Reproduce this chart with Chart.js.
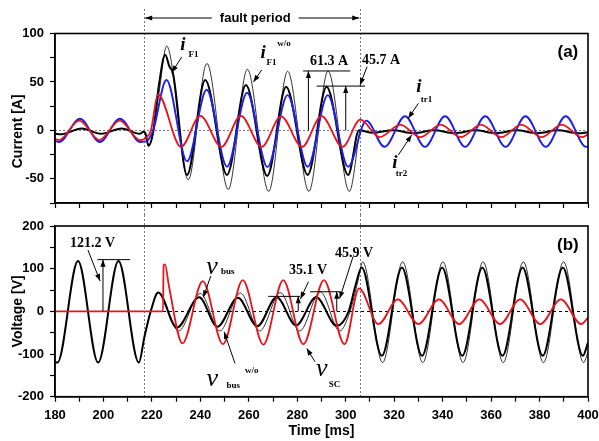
<!DOCTYPE html>
<html><head><meta charset="utf-8">
<script src="https://cdn.jsdelivr.net/npm/chart.js@4.4.0/dist/chart.umd.min.js"></script>
<style>
html,body{margin:0;padding:0;background:#fff;}
#wrap{position:relative;width:599px;height:441px;overflow:hidden;background:#fff;}
#c1{position:absolute;left:0;top:0;}
#c2{position:absolute;left:0;top:215px;}
</style></head><body>
<div id="wrap"><canvas id="c1" width="599" height="215"></canvas><canvas id="c2" width="599" height="226"></canvas></div>
<script>
// ---------- data (time in ms) ----------
const faultStart = 216.8, faultEnd = 306;

// (a) currents [A]
const iF1Time = [180, 182.5, 191, 199, 207.5, 215, 216.5, 217.3, 218.6, 220.5, 222.8, 225.5, 227.2, 228.7, 234.5, 242, 251, 258.8, 267.6, 275.4, 284.3, 292.1, 301, 305.5, 311, 319.5, 328, 336.5, 345, 353.5, 362, 370.5, 379, 387.5, 396, 400];
const iF1Val  = [-3.5, -4, 2, -3.5, 2, -3.5, -1.5, -3, -16, -2, 45, 78, 66, 59, -46, 52, -46, 46.7, -47, 45, -46, 45, -46, 0, -2.5, 0, -3, 0, -3, 0, -3, 0, -3, 0, -3, -2];

const iF1woTime = [216.5, 217.3, 218.6, 220.5, 223, 226.1, 235, 242.7, 251.5, 259.4, 268.2, 276, 284.8, 292.7, 301.5, 305.8];
const iF1woVal  = [-1.5, -3, -15, -3, 40, 87, -51, 69, -61, 63, -63, 61, -63, 61.3, -63, 0];

const itr1Time = [180, 181.7, 190.3, 198.5, 206.8, 215.2, 217.8, 220.5, 226, 234.5, 242.6, 251, 259.3, 267.7, 276, 284.3, 292.6, 301, 308.5, 316, 324.5, 332.7, 341, 349.3, 357.6, 366, 374.2, 382.6, 390.8, 399.2, 400];
const itr1Val  = [-11, -12, 12, -12, 12, -12, -11, 0, 52, -32, 42, -37.5, 38.8, -38, 36.4, -37.5, 36.4, -37.5, 10, -17, 14.5, -17, 14.5, -17, 14.5, -17, 14.5, -17, 14.5, -17, -16.5];

const itr2Time = [180, 181.7, 190, 198.3, 206.7, 215, 217.5, 219.6, 222.5, 232, 240, 248.7, 256.7, 265.3, 273.3, 282, 290, 298.7, 306, 314, 322.5, 330.8, 339.2, 347.5, 355.8, 364.2, 372.5, 380.8, 389.2, 397.5, 400];
const itr2Val  = [-9, -10, 10, -10, 10, -10, -8, 0, 37, -17, 15, -17, 15, -17, 14.5, -17, 14.7, -17, 11, -7, 6, -7, 6, -7, 6, -7, 6, -7, 6, -7, -4];

// (b) voltages [V]
const vbusTime = [180, 181, 189.5, 197.8, 206.2, 214.6, 216.9, 219.5, 222.6, 230.3, 239.5, 247, 255.5, 263.5, 271.5, 279.5, 287.8, 296.3, 301.2, 304, 306.6, 314.9, 323.2, 331.5, 339.8, 348.1, 356.4, 364.7, 373, 381.3, 389.6, 397.9, 400];
const vbusVal  = [-118, -120, 118, -120, 118, -120, -60, 0, 44, -38, 33, -36, 32, -35, 33, -33, 33, -34, 0, 60, 103, -104, 103, -104, 103, -104, 103, -104, 103, -104, 103, -104, -73];

const vbusWoTime = [216.9, 219.5, 222.8, 231, 240, 248, 256.5, 264.5, 273, 281, 289.5, 297.5, 301.8, 305, 307, 315.2, 323.5, 331.8, 340.1, 348.4, 356.7, 365, 373.3, 381.6, 389.9, 398.2, 400];
const vbusWoVal  = [-60, 0, 44, -46, 42, -46, 43, -46, 44, -46, 45.9, -46, 0, 70, 116, -120, 116, -120, 116, -120, 116, -120, 116, -120, 116, -120, -95];

const vscTime = [180, 224.6, 224.8, 225.4, 227, 232.6, 241, 249.3, 257.5, 266, 274.2, 282.5, 291, 299.5, 305.5, 313.5, 321.5, 330, 338.5, 346.8, 355.2, 363.7, 372, 380.3, 388.8, 397.2, 400];
const vscVal  = [0, 0, 108, 110, 60, -75, 71, -77, 73, -78, 73, -77, 73, -77, 54, -30, 28, -30, 28, -30, 28, -30, 28, -30, 28, -30, -15];

// tick labels
const xLabelStep = 20, yLabelStepA = 50, yLabelStepB = 100;

// ---------- helpers ----------
const pts = (ts, vs) => ts.map((t, i) => ({x: t, y: vs[i]}));
const SANS = '"Liberation Sans", Arial, sans-serif';
const SERIF = '"Liberation Serif", "Times New Roman", serif';

function drawArrowHead(ctx, x1, y1, x2, y2) {
  const ang = Math.atan2(y2 - y1, x2 - x1), L = 7, W = 2.6;
  ctx.beginPath();
  ctx.moveTo(x2, y2);
  ctx.lineTo(x2 - L*Math.cos(ang) + W*Math.sin(ang), y2 - L*Math.sin(ang) - W*Math.cos(ang));
  ctx.lineTo(x2 - L*Math.cos(ang) - W*Math.sin(ang), y2 - L*Math.sin(ang) + W*Math.cos(ang));
  ctx.closePath(); ctx.fill();
}

function drawAnnots(chart, list) {
  const {ctx, scales: {x, y}} = chart;
  ctx.save();
  ctx.fillStyle = '#000'; ctx.strokeStyle = '#000';
  list.forEach(a => {
    if (a.k === 'text') {
      ctx.font = a.f; ctx.textAlign = 'center'; ctx.textBaseline = 'middle';
      ctx.fillText(a.s, x.getPixelForValue(a.x), y.getPixelForValue(a.y));
    } else {
      const x1 = x.getPixelForValue(a.x1), y1 = y.getPixelForValue(a.y1);
      const x2 = x.getPixelForValue(a.x2), y2 = y.getPixelForValue(a.y2);
      ctx.lineWidth = a.w || 1;
      ctx.beginPath(); ctx.moveTo(x1, y1); ctx.lineTo(x2, y2); ctx.stroke();
      if (a.head) drawArrowHead(ctx, x1, y1, x2, y2);
    }
  });
  ctx.restore();
}

const fI = 'italic bold 19px ' + SERIF;
const fV = 'italic 26px ' + SERIF;
const fSub = 'bold 9px ' + SERIF;
const fVal = 'bold 14px ' + SERIF;

const annotA = [
  {k:'text', x:232.8, y:88.1, s:'i', f:fI},
  {k:'text', x:237.2, y:78.5, s:'F1', f:fSub},
  {k:'line', x1:232.3, y1:75.7, x2:228.2, y2:59.7, head:true},
  {k:'text', x:265.9, y:79.9, s:'i', f:fI},
  {k:'text', x:269.4, y:69.5, s:'F1', f:fSub},
  {k:'text', x:274.5, y:89.2, s:'w/o', f:fSub},
  {k:'line', x1:265.3, y1:62.3, x2:261.9, y2:49.9, head:true},
  {k:'text', x:293.1, y:70.9, s:'61.3 A', f:fVal},
  {k:'line', x1:282.4, y1:61.3, x2:301.8, y2:61.3},
  {k:'line', x1:284.6, y1:0, x2:284.6, y2:61.3, head:true},
  {k:'text', x:314.6, y:72.6, s:'45.7 A', f:fVal},
  {k:'line', x1:288, y1:45.7, x2:308, y2:45.7},
  {k:'line', x1:300, y1:0, x2:300, y2:45.7, head:true},
  {k:'line', x1:308.8, y1:65.7, x2:305.9, y2:46.8, head:true},
  {k:'text', x:330.2, y:45, s:'i', f:fI},
  {k:'text', x:333.3, y:31.5, s:'tr1', f:fSub},
  {k:'line', x1:330, y1:27.9, x2:325.8, y2:12.4, head:true},
  {k:'text', x:320.3, y:-34.1, s:'i', f:fI},
  {k:'text', x:323, y:-44.6, s:'tr2', f:fSub},
  {k:'line', x1:321.7, y1:-25.5, x2:327.2, y2:-4.9, head:true},
  {k:'text', x:391.7, y:80.9, s:'(a)', f:'bold 17px ' + SANS}
];

const annotB = [
  {k:'text', x:195.5, y:159.4, s:'121.2 V', f:fVal},
  {k:'line', x1:197.5, y1:121.2, x2:211, y2:121.2},
  {k:'line', x1:199.8, y1:0, x2:199.8, y2:121.2, head:true},
  {k:'line', x1:193.6, y1:143.7, x2:198.6, y2:71, head:true},
  {k:'text', x:244.8, y:103, s:'v', f:fV},
  {k:'text', x:251.3, y:92, s:'bus', f:fSub},
  {k:'line', x1:244.3, y1:82.7, x2:241.2, y2:32.8, head:true},
  {k:'text', x:244.9, y:-159, s:'v', f:fV},
  {k:'text', x:253.6, y:-175, s:'bus', f:fSub},
  {k:'text', x:261.2, y:-139, s:'w/o', f:fSub},
  {k:'line', x1:254.3, y1:-122, x2:249.8, y2:-47.8, head:true},
  {k:'text', x:290.1, y:-135.5, s:'v', f:fV},
  {k:'text', x:295.4, y:-172.7, s:'SC', f:fSub},
  {k:'line', x1:287.3, y1:-118, x2:283.9, y2:-86.7, head:true},
  {k:'text', x:284.4, y:96.8, s:'35.1 V', f:fVal},
  {k:'line', x1:268, y1:35.1, x2:281.1, y2:35.1},
  {k:'line', x1:280.4, y1:0, x2:280.4, y2:35.1, head:true},
  {k:'line', x1:284.6, y1:69.4, x2:281.3, y2:28.8, head:true},
  {k:'text', x:303.4, y:135.9, s:'45.9 V', f:fVal},
  {k:'line', x1:285.3, y1:45.9, x2:297.6, y2:45.9},
  {k:'line', x1:296.3, y1:0, x2:296.3, y2:45.9, head:true},
  {k:'line', x1:303, y1:128, x2:297.5, y2:30, head:true},
  {k:'text', x:391.7, y:155.4, s:'(b)', f:'bold 17px ' + SANS}
];

function overlay(panel) {
  return {
    id: 'overlay' + panel,
    beforeDatasetsDraw(chart) {
      const {ctx, chartArea: a, scales: {x, y}} = chart;
      ctx.save();
      ctx.lineWidth = 1;
      ctx.setLineDash(panel === 'a' ? [2, 2] : [3, 3]);
      ctx.strokeStyle = panel === 'a' ? '#777' : '#000';
      const y0 = Math.round(y.getPixelForValue(0)) + 0.5;
      ctx.beginPath(); ctx.moveTo(a.left, y0); ctx.lineTo(a.right, y0); ctx.stroke();
      ctx.setLineDash([2, 2]); ctx.strokeStyle = '#777';
      [faultStart, faultEnd].forEach(t => {
        const px = Math.round(x.getPixelForValue(t)) + 0.5;
        ctx.beginPath();
        ctx.moveTo(px, panel === 'a' ? 9 : 0);
        ctx.lineTo(px, panel === 'a' ? chart.height : a.bottom);
        ctx.stroke();
      });
      ctx.restore();
    },
    afterDraw(chart) {
      const {ctx, chartArea: a, scales: {x, y}} = chart;
      ctx.save();
      ctx.strokeStyle = '#000'; ctx.lineWidth = 1.6;
      ctx.strokeRect(a.left, a.top, a.right - a.left, a.bottom - a.top);
      // y axis title
      ctx.fillStyle = '#000';
      ctx.font = 'bold 14px ' + SANS;
      ctx.textAlign = 'center'; ctx.textBaseline = 'middle';
      ctx.translate(18, panel === 'a' ? y.getPixelForValue(-1) : y.getPixelForValue(0));
      ctx.rotate(-Math.PI / 2);
      ctx.fillText(panel === 'a' ? 'Current [A]' : 'Voltage [V]', 0, 0);
      ctx.restore();
      if (panel === 'a') {
        // fault period header
        const xl = x.getPixelForValue(faultStart), xr = x.getPixelForValue(faultEnd);
        const cx = (xl + xr) / 2 + 3, yy = 18;
        ctx.save();
        ctx.font = 'bold 13px ' + SANS; ctx.fillStyle = '#000';
        ctx.textAlign = 'center'; ctx.textBaseline = 'middle';
        const tw = ctx.measureText('fault period').width;
        ctx.fillText('fault period', cx, yy);
        ctx.strokeStyle = '#000'; ctx.lineWidth = 1;
        ctx.beginPath(); ctx.moveTo(cx - tw/2 - 8, yy); ctx.lineTo(xl + 1, yy); ctx.stroke();
        drawArrowHead(ctx, cx - tw/2 - 8, yy, xl + 1, yy);
        ctx.beginPath(); ctx.moveTo(cx + tw/2 + 8, yy); ctx.lineTo(xr - 1, yy); ctx.stroke();
        drawArrowHead(ctx, cx + tw/2 + 8, yy, xr - 1, yy);
        ctx.restore();
        drawAnnots(chart, annotA);
      } else {
        drawAnnots(chart, annotB);
      }
    }
  };
}

const tickFont = {family: SANS, size: 13, weight: 'bold'};

function ds(label, ts, vs, color, w) {
  return {label, data: pts(ts, vs), borderColor: color, borderWidth: w, pointRadius: 0,
          fill: false, cubicInterpolationMode: 'monotone'};
}

function makeOptions(panel) {
  const isA = panel === 'a';
  return {
    responsive: false, animation: false, devicePixelRatio: 1,
    layout: {padding: isA ? {top: 33.5, right: 11, left: 0, bottom: 0} : {top: 11, right: 11, left: 0, bottom: 0}},
    plugins: {legend: {display: false}, tooltip: {enabled: false}},
    scales: {
      x: {
        type: 'linear', min: 180, max: 400,
        ticks: {stepSize: 10, autoSkip: false, maxRotation: 0, padding: 6, font: tickFont, color: '#000',
                callback: v => (!isA && v % xLabelStep === 0) ? String(v) : ''},
        grid: {drawOnChartArea: false, tickLength: 5, tickWidth: 1.2, tickColor: '#000'},
        border: {display: true, color: '#000', width: 1.5},
        title: {display: !isA, text: 'Time [ms]', font: {family: SANS, size: 14, weight: 'bold'}, color: '#000', padding: {top: 0, bottom: 1}},
        afterFit(s) { s.height = isA ? 12 : 44.3; s.paddingLeft = 0; s.paddingRight = 0; }
      },
      y: {
        type: 'linear', min: isA ? -75 : -200, max: isA ? 100 : 200,
        ticks: {stepSize: isA ? 25 : 50, autoSkip: false, padding: 6, font: tickFont, color: '#000',
                callback: v => (v % (isA ? yLabelStepA : yLabelStepB) === 0) ? String(v) : ''},
        grid: {drawOnChartArea: false, tickLength: 5, tickWidth: 1.2, tickColor: '#000'},
        border: {display: true, color: '#000', width: 1.5},
        afterFit(s) { s.width = 55; s.paddingTop = 0; s.paddingBottom = 0; }
      }
    }
  };
}

new Chart(document.getElementById('c1'), {
  type: 'line',
  data: {datasets: [
    ds('i_tr2', itr2Time, itr2Val, '#e8141b', 1.8),
    ds('i_tr1', itr1Time, itr1Val, '#1f1fe6', 1.9),
    ds('i_F1', iF1Time, iF1Val, '#000000', 2),
    ds('i_F1 w/o', iF1woTime, iF1woVal, '#000000', 0.8)
  ]},
  options: makeOptions('a'),
  plugins: [overlay('a')]
});

new Chart(document.getElementById('c2'), {
  type: 'line',
  data: {datasets: [
    ds('v_SC', vscTime, vscVal, '#e8141b', 1.8),
    ds('v_bus', vbusTime, vbusVal, '#000000', 2),
    ds('v_bus w/o', vbusWoTime, vbusWoVal, '#000000', 0.8)
  ]},
  options: makeOptions('b'),
  plugins: [overlay('b')]
});
</script>
</body></html>
